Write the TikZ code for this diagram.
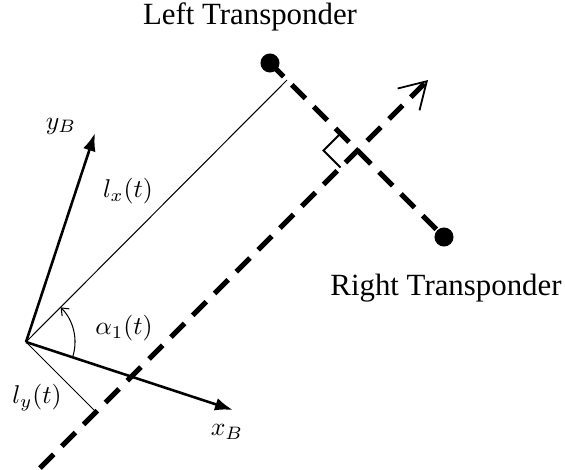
\documentclass[tikz,border=0pt]{standalone}
\usepackage[no-math]{fontspec}
\newfontfamily\tfont{Liberation Serif}
\usepackage{tikz}
\usetikzlibrary{arrows.meta,calc}

\begin{document}
\begin{tikzpicture}[x=0.389pt,y=-0.389pt,
  axis/.style={line width=1pt,-{Latex[length=7pt,width=5pt]}},
  thinline/.style={line width=0.4pt},
  dline/.style={line width=2pt,dash pattern=on 7.5pt off 4.5pt},
  dot/.style={circle,fill,inner sep=0pt,minimum size=7.4pt},
  lbl/.style={font=\fontsize{12}{14}\selectfont\tfont}]
 \useasboundingbox (0,0) rectangle (565,470);
 \coordinate (O) at (26,342);
 \coordinate (xB) at (233,410);
 \coordinate (yB) at (95,133);
 \coordinate (P) at (287,80);
 \coordinate (Q) at (96,412);
 \coordinate (S) at (40,468);
 \coordinate (E) at (428,80);
 \coordinate (X) at (357.5,150.5);
 \node[dot] (lt) at (270,63) {};
 \node[dot] (rt) at (444,237) {};
 \draw[thinline] (O)--(P);
 \draw[thinline] (O)--(Q);
 \draw[axis] (O)--(xB);
 \draw[axis] (O)--(yB);
 \draw[dline] (lt.center)--(rt.center);
 \draw[dline,-{Straight Barb[length=10pt,width=12pt,line width=0.7pt]}] (S)--(E);
 \draw[line width=0.7pt] ($(X)+(-17,-17)$)--($(X)+(-34,0)$)--($(X)+(-17,17)$);
 \draw[thinline,-{Straight Barb[length=2.5pt,width=4pt]}] ($(O)+(18.2:49)$) arc[start angle=18.2,end angle=-45,radius=49];
 \node[lbl] (ltl) at (250,17) {Left Transponder};
 \node[lbl] (rtl) at (446,288) {Right Transponder};
 \node (yBl) at (61,126) {$y_B$};
 \node (lx) at (128,191) {$l_x(t)$};
 \node (al) at (124,328) {$\alpha_1(t)$};
 \node (ly) at (37,398) {$l_y(t)$};
 \node (xBl) at (227,432) {$x_B$};
\end{tikzpicture}
\end{document}
